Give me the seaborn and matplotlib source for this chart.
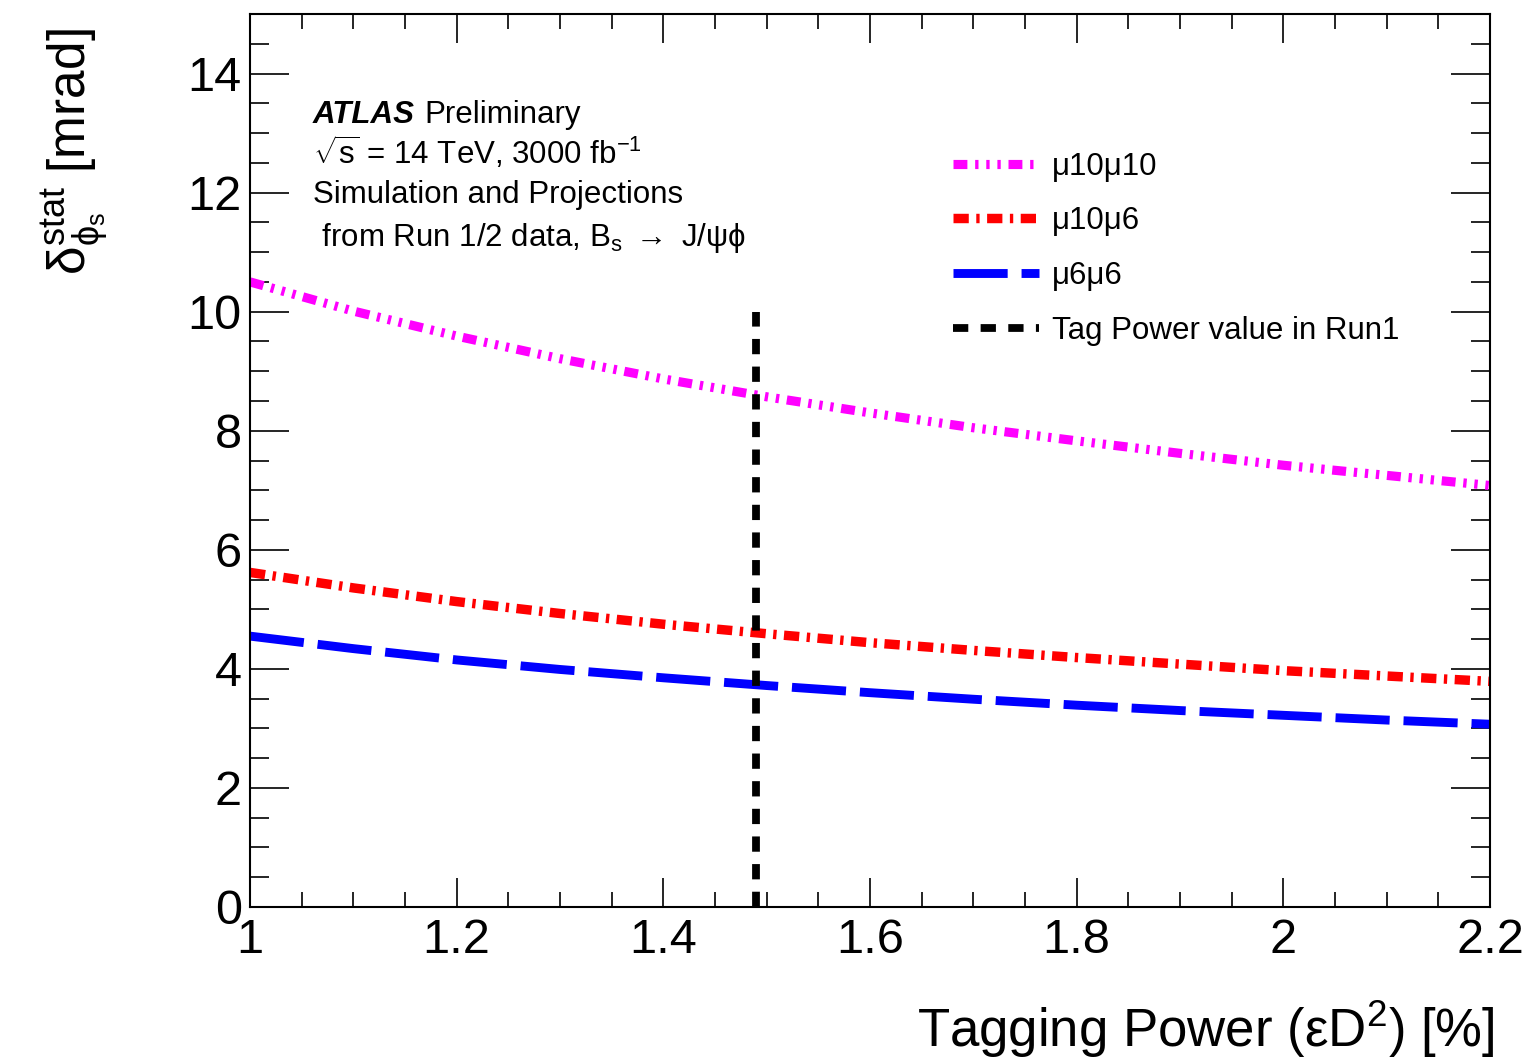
import matplotlib
matplotlib.use("Agg")
import matplotlib.pyplot as plt
from matplotlib.ticker import MultipleLocator
import seaborn as sns
import pandas as pd

# Tagging power (eps*D^2) in percent
tag_power = [1.0, 1.1, 1.2, 1.3, 1.4, 1.5, 1.6, 1.7, 1.8, 1.9, 2.0, 2.1, 2.2]
# Statistical precision on phi_s [mrad] for each trigger scenario
mu10mu10 = [10.50, 10.01, 9.59, 9.21, 8.87, 8.57, 8.30, 8.05, 7.83, 7.62, 7.42, 7.25, 7.08]
mu10mu6 = [5.62, 5.36, 5.13, 4.93, 4.75, 4.59, 4.44, 4.31, 4.19, 4.08, 3.97, 3.88, 3.79]
mu6mu6 = [4.55, 4.34, 4.15, 3.99, 3.85, 3.72, 3.60, 3.49, 3.39, 3.30, 3.22, 3.14, 3.07]
series_names = ["\u03bc10\u03bc10", "\u03bc10\u03bc6", "\u03bc6\u03bc6"]
run1_tag_power = 1.49
run1_line_y = [0, 10]
run1_label = "Tag Power value in Run1"

sns.set_style("ticks")
plt.rcParams["font.family"] = ["Liberation Sans", "DejaVu Sans"]
plt.rcParams["mathtext.fontset"] = "custom"
plt.rcParams["mathtext.rm"] = "Liberation Sans"
plt.rcParams["mathtext.it"] = "Liberation Sans:italic"
plt.rcParams["mathtext.default"] = "regular"
plt.rcParams["lines.scale_dashes"] = False
for key in ["text.color", "axes.labelcolor", "xtick.color", "ytick.color",
            "axes.edgecolor"]:
    plt.rcParams[key] = "black"

fig = plt.figure(figsize=(15.27, 10.61), dpi=100)
ax = fig.add_axes([250 / 1527, 1 - 907 / 1061, 1240 / 1527, 893 / 1061])

df = pd.DataFrame({"x": tag_power * 3,
                   "y": mu10mu10 + mu10mu6 + mu6mu6,
                   "s": sum([[n] * len(tag_power) for n in series_names], [])})

styles = {
    series_names[0]: dict(color="#ff00ff", lw=6.6,
                          ls=(0, (10.0, 5.6, 2.4, 5.6, 2.4, 5.6, 2.4, 5.6))),
    series_names[1]: dict(color="#ff0000", lw=6.8,
                          ls=(0, (11.0, 5.4, 2.4, 5.4))),
    series_names[2]: dict(color="#0000ff", lw=6.4, ls=(0, (39.0, 10.0))),
}

for name in series_names:
    st = styles[name]
    sns.lineplot(data=df[df["s"] == name], x="x", y="y", ax=ax,
                 color=st["color"], linewidth=st["lw"], linestyle=st["ls"],
                 label=name, solid_capstyle="butt")

ax.plot([run1_tag_power, run1_tag_power], run1_line_y, color="black",
        lw=5.6, linestyle=(0, (11.0, 8.9)), label=run1_label)

ax.set_xlim(1.0, 2.2)
ax.set_ylim(0, 15)
ax.xaxis.set_major_locator(MultipleLocator(0.2))
ax.xaxis.set_minor_locator(MultipleLocator(0.05))
ax.yaxis.set_major_locator(MultipleLocator(2))
ax.yaxis.set_minor_locator(MultipleLocator(0.5))
ax.xaxis.set_major_formatter(plt.FuncFormatter(lambda v, p: f"{v:g}"))
ax.yaxis.set_major_formatter(plt.FuncFormatter(lambda v, p: f"{v:g}"))

ax.tick_params(axis="both", which="both", direction="in", top=True, right=True,
               width=1.2, color="black", labelcolor="black", labelsize=35)
ax.tick_params(axis="y", which="major", length=28, pad=6)
ax.tick_params(axis="y", which="minor", length=14)
ax.tick_params(axis="x", which="major", length=21, pad=8)
ax.tick_params(axis="x", which="minor", length=10.5)
for sp in ax.spines.values():
    sp.set_linewidth(1.5)
    sp.set_color("black")

ax.set_xlabel("")
ax.set_ylabel("")

fig.text(1495 / 1527, 1 / 1061,
         "Tagging Power ($\\epsilon$D$^{2}$) [%]", fontsize=38,
         ha="right", va="bottom")
fig.text(75 / 1527, 1 - 28 / 1061,
         "$\\delta^{stat}_{\\phi_{s}}$ [mrad]", fontsize=37,
         rotation=90, ha="center", va="top")

tx = 313 / 1527
fig.text(tx, 1 - 115 / 1061, "ATLAS", fontsize=22.5, fontweight="bold",
         fontstyle="italic", va="center")
fig.text(424 / 1527, 1 - 115 / 1061, "Preliminary", fontsize=22.5, va="center")
fig.text(tx, 1 - 153 / 1061, "$\\sqrt{s}$ = 14 TeV, 3000 fb$^{-1}$",
         fontsize=22.5, va="center")
fig.text(tx, 1 - 195 / 1061, "Simulation and Projections", fontsize=22.5,
         va="center")
fig.text(tx, 1 - 238 / 1061,
         " from Run 1/2 data, B$_{s}$$\\ \\rightarrow\\ $J/\u03c8\u03d5",
         fontsize=22.5, va="center")

leg = ax.legend(loc="upper left",
                bbox_to_anchor=((955 - 250) / 1240 - 0.012, 1 - (139 - 14) / 893),
                frameon=False, fontsize=22.5, handlelength=2.75,
                handletextpad=0.42, labelspacing=0.79, borderaxespad=0)

fig.savefig("out.png", dpi=100)
